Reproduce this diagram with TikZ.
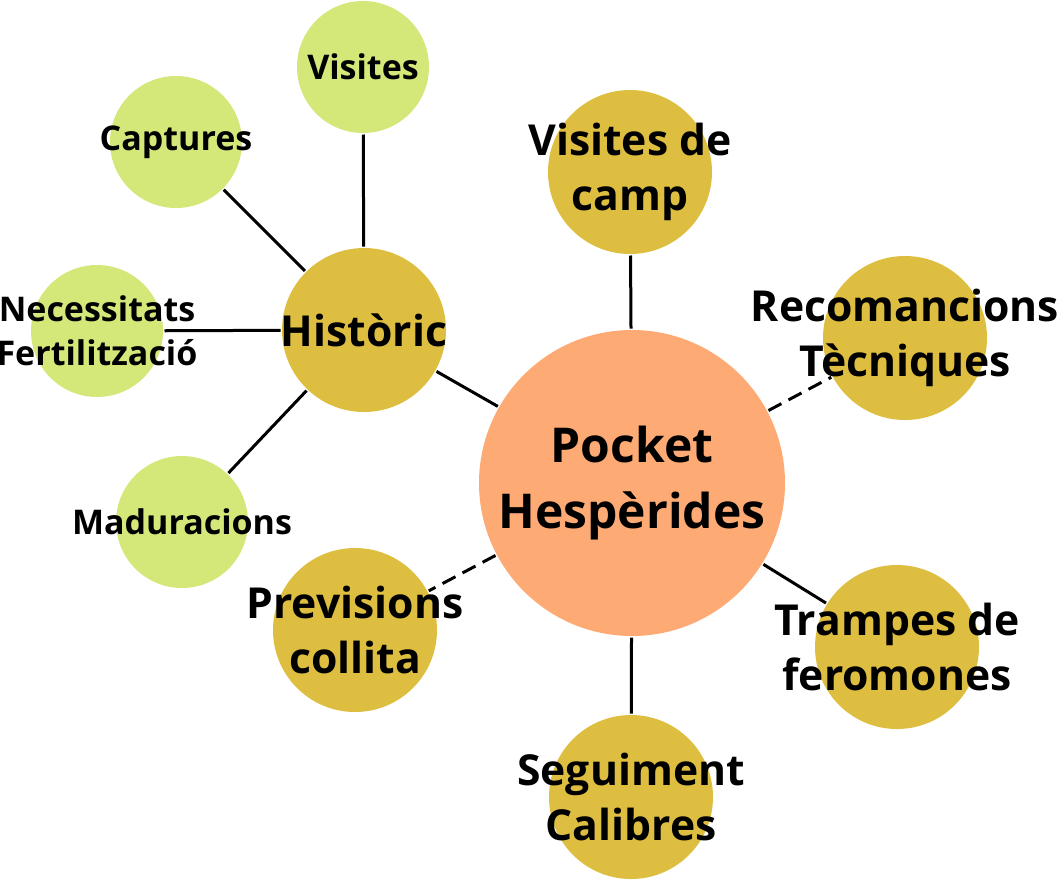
\documentclass[tikz,border=0pt]{standalone}
\usepackage{fontspec}
\setmainfont{Open Sans}
\usetikzlibrary{calc}

\definecolor{salmon}{HTML}{FDAA74}
\definecolor{gold}{HTML}{DEBE40}
\definecolor{lime}{HTML}{D4E87A}

\begin{document}
\begin{tikzpicture}[x=0.75pt, y=-0.75pt, line width=2.25pt,
    hub/.style={circle, fill=salmon, inner sep=0pt, minimum size=229.5pt},
    leaf/.style={circle, fill=gold, inner sep=0pt, minimum size=123pt},
    twig/.style={circle, fill=lime, inner sep=0pt, minimum size=99pt},
    hubtxt/.style={align=center, font=\bfseries\fontsize{36}{49.5}\selectfont},
    leaftxt/.style={align=center, font=\bfseries\fontsize{32}{41.25}\selectfont},
    twigtxt/.style={align=center, font=\bfseries\fontsize{25.5}{33}\selectfont},
    link/.style={draw=black},
    weak/.style={draw=black, dash pattern=on 11pt off 6pt}]
    \useasboundingbox (0,0) rectangle (1063,879);

    \node[hub, label={[hubtxt]center:{Pocket\\Hespèrides}}] (pocket) at (632,483) {};
    \node[leaf, label={[leaftxt]center:{Visites de\\camp}}] (camp) at (630,172) {};
    \node[leaf, label={[leaftxt]center:{Recomancions\\Tècniques}}] (recom) at (905,338) {};
    \node[leaf, label={[leaftxt]center:{Trampes de\\feromones}}] (trampes) at (897,647) {};
    \node[leaf, label={[leaftxt]center:{Seguiment\\Calibres}}] (calibres) at (631,797) {};
    \node[leaf, label={[leaftxt]center:{Previsions\\collita}}] (previsions) at (355,630) {};
    \node[leaf, label={[leaftxt]center:{Històric}}] (historic) at (364,330) {};
    \node[twig, label={[twigtxt]center:{Visites}}] (visites) at (363,67) {};
    \node[twig, label={[twigtxt]center:{Captures}}] (captures) at (176,142) {};
    \node[twig, label={[twigtxt]center:{Necessitats\\Fertilització}}] (fert) at (97,331) {};
    \node[twig, label={[twigtxt]center:{Maduracions}}] (madur) at (182,522) {};

    \path
    (pocket) edge[link] (camp)
        (pocket) edge[weak] (recom)
        (pocket) edge[link] (trampes)
        (pocket) edge[link] (calibres)
        (pocket) edge[weak] (previsions)
        (pocket) edge[link] (historic)
    (historic) edge[link] (visites)
        (historic) edge[link] (captures)
        (historic) edge[link] (fert)
        (historic) edge[link] (madur);
\end{tikzpicture}
\end{document}
